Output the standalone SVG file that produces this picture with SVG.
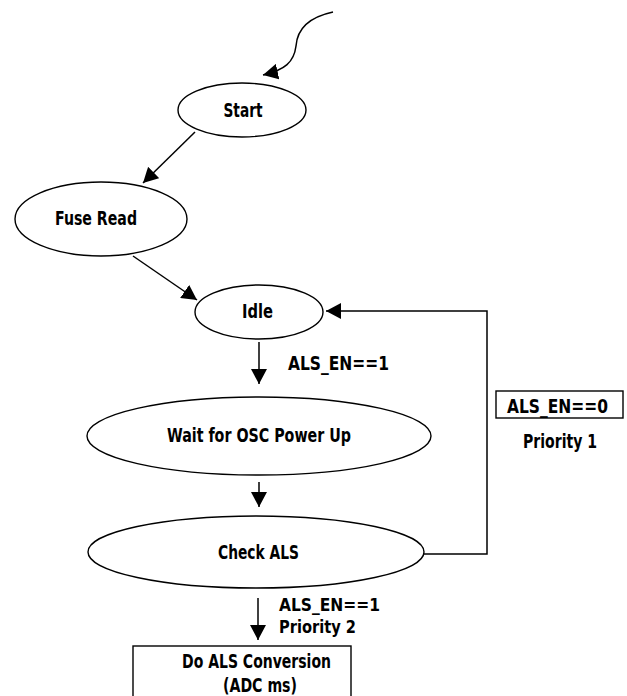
<svg xmlns="http://www.w3.org/2000/svg" width="627" height="696" viewBox="0 0 627 696">
<style>
.n{fill:#fff;stroke:#000;stroke-width:1.4}
.c{fill:none;stroke:#000;stroke-width:1.5}
text{font-family:"Liberation Sans Narrow","DejaVu Sans Condensed","Liberation Sans",sans-serif;font-weight:bold;font-size:20px;fill:#000}
.s{font-size:18px}
</style>
<defs>
<marker id="ah" markerUnits="userSpaceOnUse" markerWidth="16" markerHeight="16" viewBox="0 0 16 16" refX="15" refY="8" orient="auto">
<path d="M0,0 L15,8 L0,16 Z" fill="#000"/>
</marker>
</defs>
<rect width="627" height="696" fill="#fff"/>
<g id="connectors">
<path class="c" d="M333,12 C305,18 297,32 296,46 C294,62 285,70 263,75" marker-end="url(#ah)"/>
<line class="c" x1="195" y1="132" x2="143" y2="183" marker-end="url(#ah)"/>
<line class="c" x1="133" y1="256" x2="197" y2="300" marker-end="url(#ah)"/>
<line class="c" x1="259" y1="342" x2="259" y2="384" marker-end="url(#ah)"/>
<line class="c" x1="259" y1="482" x2="259" y2="507" marker-end="url(#ah)"/>
<path class="c" d="M423,554 H487 V311 H326" marker-end="url(#ah)"/>
<line class="c" x1="258" y1="598" x2="258" y2="640" marker-end="url(#ah)"/>
</g>
<g id="start"><ellipse class="n" cx="242" cy="110" rx="64" ry="27"/><text x="243" y="117" text-anchor="middle" textLength="39" lengthAdjust="spacingAndGlyphs">Start</text></g>
<g id="fuse-read"><ellipse class="n" cx="101" cy="219" rx="86" ry="37"/><text x="96" y="225" text-anchor="middle" textLength="82" lengthAdjust="spacingAndGlyphs">Fuse Read</text></g>
<g id="idle"><ellipse class="n" cx="259" cy="312" rx="64" ry="27"/><text x="257.5" y="318" text-anchor="middle" textLength="31" lengthAdjust="spacingAndGlyphs">Idle</text></g>
<g id="wait-osc"><ellipse class="n" cx="259" cy="436" rx="172" ry="39"/><text x="259" y="442" text-anchor="middle" textLength="184" lengthAdjust="spacingAndGlyphs">Wait for OSC Power Up</text></g>
<g id="check-als"><ellipse class="n" cx="256" cy="552" rx="168" ry="36"/><text x="258.5" y="559" text-anchor="middle" textLength="81" lengthAdjust="spacingAndGlyphs">Check ALS</text></g>
<g id="do-als-conversion"><rect class="n" x="133" y="646" width="218" height="60"/><text x="256.5" y="668" text-anchor="middle" textLength="149" lengthAdjust="spacingAndGlyphs">Do ALS Conversion</text><text x="260" y="692" text-anchor="middle" textLength="74" lengthAdjust="spacingAndGlyphs">(ADC ms)</text></g>
<g id="labels">
<text x="288" y="370" textLength="101" lengthAdjust="spacingAndGlyphs">ALS_EN==1</text>
<rect class="n" x="496" y="391" width="127" height="27"/>
<text x="507" y="413" textLength="101" lengthAdjust="spacingAndGlyphs">ALS_EN==0</text>
<text x="523" y="448" textLength="74" lengthAdjust="spacingAndGlyphs">Priority 1</text>
<text class="s" x="279" y="611" textLength="101" lengthAdjust="spacingAndGlyphs">ALS_EN==1</text>
<text class="s" x="279" y="633" textLength="77" lengthAdjust="spacingAndGlyphs">Priority 2</text>
</g>
</svg>
